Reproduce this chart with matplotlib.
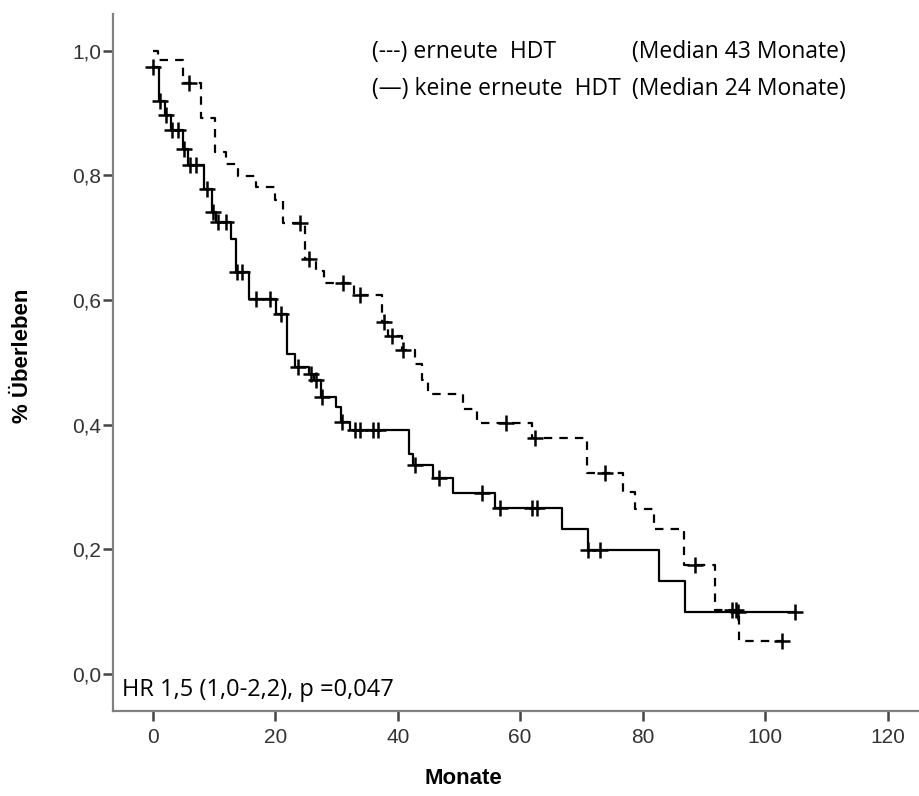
import numpy as np
import matplotlib
matplotlib.use('Agg')
from matplotlib import pyplot as plt

# Kaplan-Meier, keine erneute HDT (durchgezogen)
solid_t = [0, 1.0, 2.0, 3.0, 4.9, 5.8, 8.3, 9.6, 10.4, 12.8, 13.6, 15.7, 20.2, 21.9,
           23.3, 25.5, 26.3, 27.5, 30.0, 30.8, 32.2, 41.8, 42.5, 45.8, 49.0, 55.9,
           66.9, 71.0, 82.7, 86.9]
solid_s = [0.973, 0.919, 0.896, 0.873, 0.842, 0.817, 0.778, 0.741, 0.725, 0.698, 0.645,
           0.602, 0.578, 0.514, 0.492, 0.482, 0.471, 0.444, 0.428, 0.404, 0.391, 0.353,
           0.335, 0.314, 0.291, 0.266, 0.232, 0.199, 0.149, 0.099]
solid_end = 105.0
solid_cens = [0.05, 1.1, 2.1, 3.1, 4.1, 5.1, 6.0, 7.0, 8.8, 9.9, 10.6, 12.0, 13.7, 14.6,
              16.8, 19.1, 21.0, 23.7, 25.9, 26.7, 27.7, 30.9, 33.0, 33.8, 35.9, 36.8,
              42.8, 46.8, 53.8, 56.7, 62.0, 62.8, 71.1, 73.0, 95.6, 104.9]

# erneute HDT (gestrichelt)
dash_t = [0, 0.8, 5.0, 7.9, 10.1, 11.9, 13.9, 16.9, 19.9, 21.3, 24.8, 26.7, 28.0, 32.9,
          37.5, 38.4, 40.7, 42.8, 43.9, 44.9, 50.7, 52.9, 62.0, 70.9, 76.8, 78.8, 81.8,
          86.8, 91.8, 95.8]
dash_s = [1.0, 0.984, 0.948, 0.892, 0.837, 0.818, 0.799, 0.781, 0.760, 0.723, 0.666,
          0.647, 0.628, 0.608, 0.565, 0.543, 0.520, 0.497, 0.471, 0.450, 0.425, 0.402,
          0.378, 0.323, 0.292, 0.265, 0.233, 0.175, 0.103, 0.053]
dash_end = 103.0
dash_cens = [5.9, 24.0, 25.5, 31.0, 33.8, 37.7, 39.0, 40.8, 57.7, 62.4, 73.9, 88.6,
             94.6, 95.3, 102.7]

xticks = [0, 20, 40, 60, 80, 100, 120]
yticks = [0.0, 0.2, 0.4, 0.6, 0.8, 1.0]
ytick_labels = ['0,0', '0,2', '0,4', '0,6', '0,8', '1,0']


def level_at(ts, ss, t):
    i = np.searchsorted(ts, t, side='right') - 1
    return ss[max(i, 0)]


fig = plt.figure(figsize=(9.2, 7.96), dpi=100)
ax = fig.add_axes([0.1228, 0.1068, 0.8772, 0.8752])

tick_font = ['Liberation Sans', 'DejaVu Sans']
txt_font = ['Open Sans', 'DejaVu Sans']

for ts, ss, tend, cens, ls in ((solid_t, solid_s, solid_end, solid_cens, '-'),
                               (dash_t, dash_s, dash_end, dash_cens, (0, (3.8, 3.2)))):
    x = list(ts) + [tend]
    y = list(ss) + [ss[-1]]
    ax.step(x, y, where='post', color='black', lw=1.6, ls=ls)
    cy = [level_at(ts, ss, c) for c in cens]
    ax.plot(cens, cy, ls='none', marker='+', ms=11, mew=1.8, color='black')

ax.set_xlim(-6.5, 125.3)
ax.set_ylim(-0.059, 1.058)
ax.set_xticks(xticks)
ax.set_xticklabels([str(v) for v in xticks], family=tick_font, fontsize=15, color='#333333')
ax.set_yticks(yticks)
ax.set_yticklabels(ytick_labels, family=tick_font, fontsize=15, color='#333333')
ax.tick_params(direction='out', length=7, width=1.8, color='#444444')
ax.tick_params(axis='x', pad=5)
ax.tick_params(axis='y', pad=1.5)

for s in ('top', 'right'):
    ax.spines[s].set_visible(False)
for s in ('left', 'bottom'):
    ax.spines[s].set_color('#808080')
    ax.spines[s].set_linewidth(1.6)

fig.text(463 / 920, 1 - 779 / 796, 'Monate', fontsize=16, fontweight='bold',
         family=tick_font, ha='center', va='center')
fig.text(23 / 920, 1 - 356 / 796, '% Überleben', fontsize=16, fontweight='bold',
         family=tick_font, ha='center', va='center', rotation=90)

ax.text(35.8, 0.997, '(---) erneute  HDT', fontsize=16.5, family=txt_font, va='center')
ax.text(78.3, 0.997, '(Median 43 Monate)', fontsize=16.5, family=txt_font, va='center')
ax.text(35.8, 0.939, '(\u2014) keine erneute  HDT', fontsize=16.5, family=txt_font, va='center')
ax.text(78.3, 0.939, '(Median 24 Monate)', fontsize=16.5, family=txt_font, va='center')
ax.text(-5.1, -0.025, 'HR 1,5 (1,0-2,2), p =0,047', fontsize=17, family=txt_font, va='center')

fig.savefig('out.png', dpi=100)
